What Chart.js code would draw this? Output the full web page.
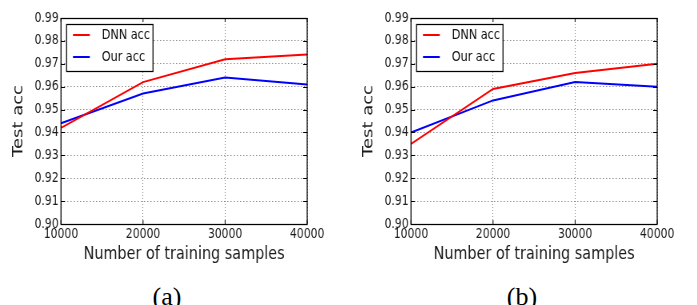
<!DOCTYPE html>
<html>
<head>
<meta charset="utf-8">
<script src="https://cdn.jsdelivr.net/npm/chart.js@4.4.1/dist/chart.umd.min.js"></script>
<style>
  html, body { margin: 0; padding: 0; background: #fff; width: 697px; height: 305px; overflow: hidden; }
  .panel { position: absolute; top: 0; width: 435px; height: 270px; transform: scaleX(0.8); transform-origin: 0 0; }
  .cap { position: absolute; top: 284px; width: 60px; text-align: center; font-family: "Liberation Serif", "Times New Roman", serif; font-size: 26px; line-height: 26px; color: #000; }
</style>
</head>
<body>
<div class="panel" style="left:0px"><canvas id="ca" width="435" height="270"></canvas></div>
<div class="panel" style="left:350px"><canvas id="cb" width="435" height="270"></canvas></div>
<div class="cap" style="left:137px">(a)</div>
<div class="cap" style="left:492px">(b)</div>
<script>
const samples = [10000, 20000, 30000, 40000];
const yTicks = [0.90, 0.91, 0.92, 0.93, 0.94, 0.95, 0.96, 0.97, 0.98, 0.99];
const seriesNames = ["DNN acc", "Our acc"];
const dnnA = [0.942, 0.962, 0.972, 0.974];
const ourA = [0.944, 0.957, 0.964, 0.961];
const dnnB = [0.935, 0.959, 0.966, 0.970];
const ourB = [0.940, 0.954, 0.962, 0.960];

const FONT = "'DejaVu Sans', sans-serif";

const framePlugin = {
  id: 'frameAndLegend',
  afterDatasetsDraw(chart) {
    const { ctx, chartArea: a } = chart;
    const xs = chart.scales.x, ys = chart.scales.y;
    ctx.save();
    ctx.strokeStyle = '#000';
    ctx.lineWidth = 1;
    ctx.beginPath();
    yTicks.forEach(v => {
      const y = Math.round(ys.getPixelForValue(v)) + 0.5;
      ctx.moveTo(a.left, y); ctx.lineTo(a.left + 5, y);
      ctx.moveTo(a.right, y); ctx.lineTo(a.right - 5, y);
    });
    samples.forEach(v => {
      const x = xs.getPixelForValue(v);
      ctx.moveTo(x, a.bottom); ctx.lineTo(x, a.bottom - 4);
      ctx.moveTo(x, a.top); ctx.lineTo(x, a.top + 4);
    });
    ctx.stroke();
    ctx.lineWidth = 1.25;
    ctx.strokeRect(a.left, Math.round(a.top) + 0.5, a.right - a.left, Math.round(a.bottom) - Math.round(a.top));
    const bx = a.left + 7, by = a.top + 6, bw = 108, bh = 47;
    ctx.fillStyle = '#fff';
    ctx.fillRect(bx, by, bw, bh);
    ctx.lineWidth = 1.25;
    ctx.strokeStyle = '#000';
    ctx.strokeRect(bx, by + 0.5, bw, bh);
    chart.data.datasets.forEach((ds, i) => {
      const ry = by + 11 + i * 22;
      ctx.strokeStyle = ds.borderColor;
      ctx.lineWidth = 2;
      ctx.beginPath();
      ctx.moveTo(bx + 8, ry); ctx.lineTo(bx + 29, ry);
      ctx.stroke();
      ctx.fillStyle = '#111';
      ctx.font = "14px " + FONT;
      ctx.textBaseline = 'middle';
      ctx.textAlign = 'left';
      ctx.fillText(ds.label, bx + 44, ry);
    });
    ctx.restore();
  }
};

function makeChart(id, dnn, our) {
  const toPts = arr => samples.map((s, i) => ({ x: s, y: arr[i] }));
  return new Chart(document.getElementById(id), {
    type: 'line',
    data: {
      datasets: [
        { label: seriesNames[0], data: toPts(dnn), borderColor: '#ff0000', borderWidth: 2, pointRadius: 0, tension: 0, fill: false },
        { label: seriesNames[1], data: toPts(our), borderColor: '#0000ff', borderWidth: 2, pointRadius: 0, tension: 0, fill: false }
      ]
    },
    options: {
      responsive: false,
      animation: false,
      events: [],
      layout: { padding: { top: 18, right: 51, left: 0, bottom: 0 } },
      plugins: { legend: { display: false }, tooltip: { enabled: false } },
      scales: {
        x: {
          type: 'linear',
          min: samples[0], max: samples[samples.length - 1],
          afterFit: s => { s.height = 46; },
          afterBuildTicks: s => { s.ticks = samples.map(v => ({ value: v })); },
          ticks: { color: '#1a1a1a', font: { family: FONT, size: 13.5 }, padding: 2, maxRotation: 0, autoSkip: false, callback: v => String(v) },
          grid: { drawTicks: false, color: 'rgba(0,0,0,0.45)', lineWidth: 1 },
          border: { display: false, dash: [1, 2] },
          title: { display: true, text: 'Number of training samples', color: '#1a1a1a', font: { family: FONT, size: 18 }, padding: { top: 0, bottom: 5 } }
        },
        y: {
          min: yTicks[0], max: yTicks[yTicks.length - 1],
          afterFit: s => { s.width = 76.25; },
          afterBuildTicks: s => { s.ticks = yTicks.map(v => ({ value: v })); },
          ticks: { color: '#1a1a1a', font: { family: FONT, size: 13.5 }, padding: 3, autoSkip: false, callback: v => Number(v).toFixed(2) },
          grid: { drawTicks: false, color: 'rgba(0,0,0,0.45)', lineWidth: 1 },
          border: { display: false, dash: [1.5, 2.5] },
          title: { display: true, text: 'Test acc', color: '#1a1a1a', font: { family: FONT, size: 18 }, padding: { top: 13, bottom: 0 } }
        }
      }
    },
    plugins: [framePlugin]
  });
}

makeChart('ca', dnnA, ourA);
makeChart('cb', dnnB, ourB);
</script>
</body>
</html>
